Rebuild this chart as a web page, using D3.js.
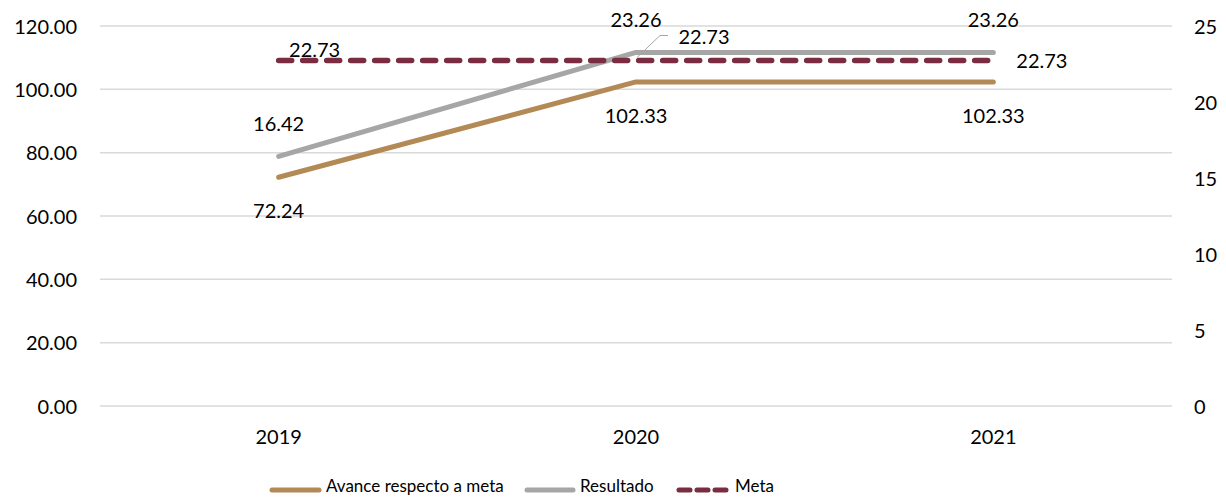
<!DOCTYPE html>
<html><head><meta charset="utf-8">
<script src="https://cdn.jsdelivr.net/npm/d3@7"></script>
<style>body{margin:0;background:#fff}svg text{font-family:Lato,"Open Sans",sans-serif;fill:#000}</style>
</head><body><svg id="c" width="1226" height="500"></svg>
<script>
const categories = ["2019","2020","2021"];
const avance = [72.24, 102.33, 102.33];
const resultado = [16.42, 23.26, 23.26];
const meta = [22.73, 22.73, 22.73];
const leftTicks = [0,20,40,60,80,100,120];
const rightTicks = [0,5,10,15,20,25];
const seriesNames = ["Avance respecto a meta","Resultado","Meta"];
const colors = {avance:"#B38A55", resultado:"#A6A6A6", meta:"#7A2C41"};

const svg = d3.select("#c");
const m = {l:100, r:1172, t:26, b:406};
const x = d3.scaleBand().domain(categories).range([m.l, m.r]);
const yL = d3.scaleLinear().domain([0,120]).range([m.b, m.t]);
const yR = d3.scaleLinear().domain([0,25]).range([m.b, m.t]);
const cx = c => x(c) + x.bandwidth()/2;
const FS = "20px";

// gridlines
svg.append("g").selectAll("line").data(leftTicks).join("line")
  .attr("x1", m.l).attr("x2", m.r).attr("y1", d=>yL(d)).attr("y2", d=>yL(d))
  .attr("stroke","#D9D9D9").attr("stroke-width",1.5);

// left axis
const gl = svg.append("g").attr("transform",`translate(${m.l-23},0)`)
  .call(d3.axisLeft(yL).tickValues(leftTicks).tickFormat(d3.format(".2f")).tickSize(0).tickPadding(0));
gl.select(".domain").remove();
gl.selectAll("text").style("font-size",FS).attr("dy","0.35em");

// right axis
const gr = svg.append("g").attr("transform",`translate(${m.r+22},0)`)
  .call(d3.axisRight(yR).tickValues(rightTicks).tickSize(0).tickPadding(0));
gr.select(".domain").remove();
gr.selectAll("text").style("font-size",FS).attr("dy","0.35em");

// x axis
const gx = svg.append("g").attr("transform",`translate(0,${m.b+31})`)
  .call(d3.axisBottom(x).tickSize(0).tickPadding(0));
gx.select(".domain").remove();
gx.selectAll("text").style("font-size",FS).attr("dy","0.35em");

const line = (ys, arr) => d3.line().x((d,i)=>cx(categories[i])).y(d=>ys(d))(arr);

svg.append("path").attr("d", line(yL, avance)).attr("fill","none")
  .attr("stroke",colors.avance).attr("stroke-width",5).attr("stroke-linecap","round").attr("stroke-linejoin","round");
svg.append("path").attr("d", line(yR, resultado)).attr("fill","none")
  .attr("stroke",colors.resultado).attr("stroke-width",5).attr("stroke-linecap","round").attr("stroke-linejoin","round");
svg.append("path").attr("d", line(yR, meta)).attr("fill","none")
  .attr("stroke",colors.meta).attr("stroke-width",5.5).attr("stroke-linecap","round")
  .attr("stroke-dasharray","13,11");

// data labels
const fmt = d3.format(".2f");
const lab = (xx, yy, t, anchor="middle") => svg.append("text").attr("x",xx).attr("y",yy)
  .attr("text-anchor",anchor).attr("dy","0.35em").style("font-size",FS).text(t);

// Avance below
avance.forEach((v,i)=> lab(cx(categories[i]), yL(v)+34, fmt(v)));
// Resultado above
resultado.forEach((v,i)=> lab(cx(categories[i]), yR(v)-32, fmt(v)));
// Meta
lab(cx(categories[0])+36, yR(meta[0])-11, fmt(meta[0]));
lab(cx(categories[1])+68, yR(meta[1])-24, fmt(meta[1]));
svg.append("polyline")
  .attr("points", `${cx(categories[1])+1},${yR(meta[1])-3} ${cx(categories[1])+24},${yR(meta[1])-25} ${cx(categories[1])+32},${yR(meta[1])-25}`)
  .attr("fill","none").attr("stroke","#A6A6A6").attr("stroke-width",1);
lab(cx(categories[2])+23, yR(meta[2]), fmt(meta[2]), "start");

// legend
const leg = svg.append("g");
const items = [
  {name:seriesNames[0], x1:272, x2:319, c:colors.avance, dash:null, tx:326},
  {name:seriesNames[1], x1:527, x2:573, c:colors.resultado, dash:null, tx:580},
  {name:seriesNames[2], x1:679, x2:726, c:colors.meta, dash:"11,7", tx:735}
];
const ly = 490;
items.forEach(it=>{
  leg.append("line").attr("x1",it.x1).attr("x2",it.x2).attr("y1",ly).attr("y2",ly)
    .attr("stroke",it.c).attr("stroke-width",5).attr("stroke-linecap","round")
    .attr("stroke-dasharray",it.dash);
  leg.append("text").attr("x",it.tx).attr("y",ly-4).attr("dy","0.35em").style("font-size","17px").text(it.name);
});
</script></body></html>
